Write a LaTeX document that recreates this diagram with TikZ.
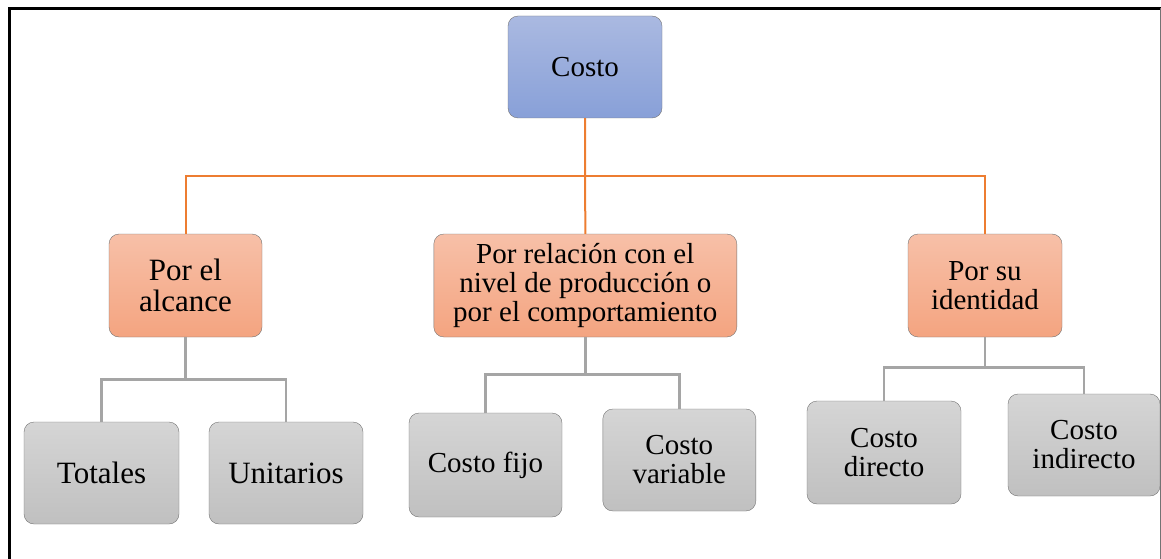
\documentclass[tikz,border=0pt]{standalone}
\usepackage{fontspec}
\setmainfont{Liberation Serif}
\usepackage{tikz}

\definecolor{ramaorange}{HTML}{ED7D31}
\definecolor{ramagris}{HTML}{A5A5A5}

\begin{document}
\begin{tikzpicture}[x=1pt, y=-1pt,
	caja/.style={draw=black!55, rounded corners=10pt, align=center, inner sep=2pt, font=\rmfamily\fontsize{29}{29}\selectfont},
	costobox/.style={caja, top color={rgb,255:red,170;green,185;blue,225}, bottom color={rgb,255:red,136;green,160;blue,216}},
	tipobox/.style={caja, top color={rgb,255:red,247;green,192;blue,168}, bottom color={rgb,255:red,244;green,164;blue,128}},
	clasebox/.style={caja, top color={rgb,255:red,213;green,213;blue,213}, bottom color={rgb,255:red,192;green,192;blue,192}},
	grande/.style={font=\rmfamily\fontsize{31}{31}\selectfont},
	ramaN/.style={ramaorange, line width=2pt},
	ramaG/.style={ramagris, line width=2.6pt}]

	\useasboundingbox (0,0) rectangle (1161,559);

	\draw[line width=3pt] (9.5,559) -- (9.5,8.5) -- (1161,8.5);
	\draw[black!55, line width=1pt] (1160.5,8.5) -- (1160.5,559);

	\node[costobox, minimum width=154pt, minimum height=102pt] (costo) at (585,67) {Costo};

	\node[tipobox, grande, minimum width=153pt, minimum height=103pt] (alcance) at (185.5,285.5) {Por el\\alcance};
	\node[tipobox, minimum width=303pt, minimum height=103pt] (relacion) at (585.3,285.5) {Por relación con el\\nivel de producción o\\por el comportamiento};
	\node[tipobox, minimum width=154pt, minimum height=103pt] (identidad) at (985,285.5) {Por su\\identidad};

	\node[clasebox, grande, minimum width=155pt, minimum height=102pt] (totales) at (101.5,473) {Totales};
	\node[clasebox, grande, minimum width=154pt, minimum height=102pt] (unitarios) at (286,473) {Unitarios};
	\node[clasebox, minimum width=153pt, minimum height=104pt] (fijo) at (485.5,465) {Costo fijo};
	\node[clasebox, minimum width=153pt, minimum height=102pt] (variable) at (679.3,460) {Costo\\variable};
	\node[clasebox, minimum width=154pt, minimum height=103pt] (directo) at (884,452.5) {Costo\\directo};
	\node[clasebox, minimum width=152pt, minimum height=102pt] (indirecto) at (1084,445) {Costo\\indirecto};

	\coordinate (bus) at (585,176);
	\draw[ramaN] (costo.south) -- (relacion.north);
	\draw[ramaN] (bus) -| (alcance.north);
	\draw[ramaN] (bus) -| (identidad.north);

	\draw[ramaG] (alcance.south) -- ++(0,42) -| (totales.north);
	\draw[ramaG] (alcance.south) -- ++(0,42) -| (unitarios.north);
	\draw[ramaG] (relacion.south) -- ++(0,37) -| (fijo.north);
	\draw[ramaG] (relacion.south) -- ++(0,37) -| (variable.north);
	\draw[ramaG] (identidad.south) -- ++(0,30) -| (directo.north);
	\draw[ramaG] (identidad.south) -- ++(0,30) -| (indirecto.north);

\end{tikzpicture}
\end{document}
